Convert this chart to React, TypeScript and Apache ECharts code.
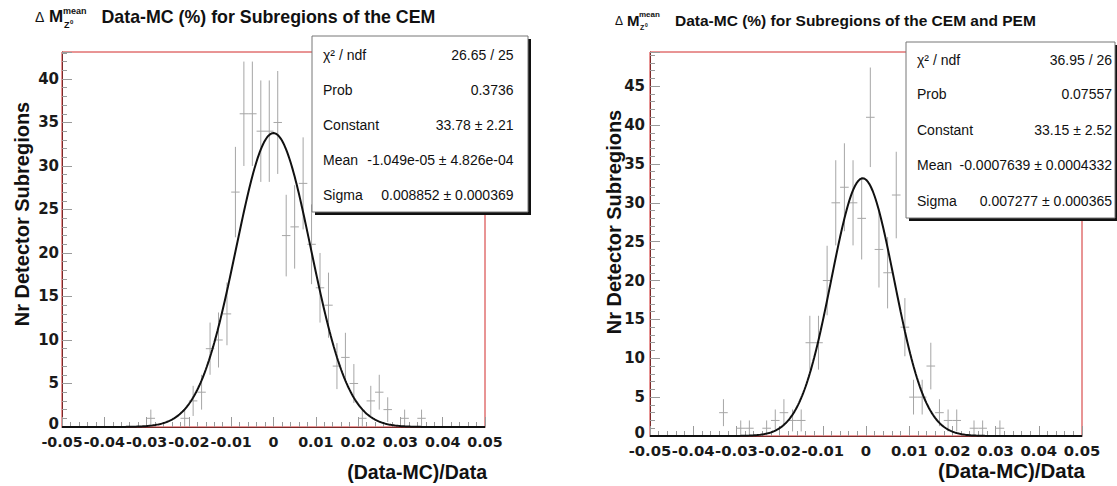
import React, { useEffect, useRef } from "react";
import * as echarts from "echarts";

// ---- data ----
const X_MIN = -0.05;
const X_MAX = 0.05;
const BIN_W = 0.002;

const xTickValues = [-0.05, -0.04, -0.03, -0.02, -0.01, 0, 0.01, 0.02, 0.03, 0.04, 0.05];

// bin contents, 50 bins of width 0.002 from -0.05 to 0.05
const cemCounts = [
  0, 0, 0, 0, 0, 0, 0, 0, 0, 0,
  1, 0, 0, 0, 1, 3, 4, 9, 10, 13,
  27, 36, 36, 34, 34, 35, 22, 23, 28, 21,
  16, 14, 7, 8, 5, 1, 3, 4, 2, 0,
  1, 0, 1, 0, 0, 0, 0, 0, 0, 0,
];
const cemPemCounts = [
  0, 0, 0, 0, 0, 0, 0, 0, 3, 0,
  1, 1, 0, 1, 2, 3, 2, 2, 12, 12,
  20, 30, 32, 30, 28, 41, 24, 21, 31, 14,
  5, 5, 9, 3, 2, 2, 0, 1, 1, 0,
  1, 0, 0, 0, 0, 0, 0, 0, 0, 0,
];

// fit parameters (gaussian) as printed in the stat boxes
const cemFit = { constant: 33.78, mean: -1.049e-5, sigma: 0.008852 };
const cemPemFit = { constant: 33.15, mean: -0.0007639, sigma: 0.007277 };

const statLabels = ["χ² / ndf", "Prob", "Constant", "Mean", "Sigma"];
const cemStatValues = ["26.65 / 25", "0.3736", "33.78 ± 2.21", "-1.049e-05 ± 4.826e-04", "0.008852 ± 0.000369"];
const cemPemStatValues = ["36.95 / 26", "0.07557", "33.15 ± 2.52", "-0.0007639 ± 0.0004332", "0.007277 ± 0.000365"];

const titleMain = ["Data-MC (%) for Subregions of the CEM", "Data-MC (%) for Subregions of the CEM and PEM"];
const yTitle = "Nr Detector Subregions";
const xTitle = "(Data-MC)/Data";

// ---- helpers ----
function histPoints(counts: number[]) {
  const pts: number[][] = [];
  counts.forEach((c, i) => {
    if (c > 0) pts.push([X_MIN + (i + 0.5) * BIN_W, c, Math.sqrt(c)]);
  });
  return pts;
}

function fitCurve(p: { constant: number; mean: number; sigma: number }) {
  const pts: number[][] = [];
  const n = 400;
  for (let i = 0; i <= n; i++) {
    const x = X_MIN + ((X_MAX - X_MIN) * i) / n;
    const z = (x - p.mean) / p.sigma;
    pts.push([x, p.constant * Math.exp(-0.5 * z * z)]);
  }
  return pts;
}

const FONT = "Liberation Sans, Arial, Helvetica, sans-serif";
const TICK_FONT = "DejaVu Sans, Verdana, sans-serif";
const TICK_COLOR = "#9a9a9a";
const POINT_COLOR = "#a6a6a6";
const AXIS_COLOR = "#7a2a2a";

function xLabel(v: number) {
  if (Math.abs(v) < 1e-9) return "0";
  return String(+v.toFixed(2));
}

function makeAxes(gridIndex: number, yMax: number, xMargin: number, yMargin: number, xFont: number) {
  const tickStyle = { color: TICK_COLOR, width: 1 };
  return {
    x: {
      type: "value",
      gridIndex,
      min: X_MIN,
      max: X_MAX,
      interval: 0.01,
      axisLine: { show: true, onZero: false, lineStyle: { color: AXIS_COLOR, width: 1 } },
      axisTick: { show: true, inside: true, length: 10, lineStyle: tickStyle },
      minorTick: { show: true, splitNumber: 5, length: 5, lineStyle: tickStyle },
      splitLine: { show: false },
      axisLabel: {
        fontFamily: TICK_FONT,
        fontWeight: "bold",
        fontSize: xFont,
        color: "#1a1a1a",
        margin: xMargin,
        showMinLabel: true,
        showMaxLabel: true,
        hideOverlap: false,
        formatter: (v: number) => (xTickValues.some((t) => Math.abs(t - v) < 1e-9) ? xLabel(v) : ""),
      },
    },
    y: {
      type: "value",
      gridIndex,
      min: 0,
      max: yMax,
      interval: 5,
      axisLine: { show: true, onZero: false, lineStyle: { color: AXIS_COLOR, width: 1 } },
      axisTick: { show: true, inside: true, length: 10, lineStyle: tickStyle },
      minorTick: { show: true, splitNumber: 5, length: 5, lineStyle: tickStyle },
      splitLine: { show: false },
      axisLabel: {
        fontFamily: TICK_FONT,
        fontWeight: "bold",
        fontSize: 15,
        color: "#1a1a1a",
        margin: yMargin,
        showMinLabel: true,
        formatter: (v: number) => (Math.abs(v) < 1e-9 ? "{z|0}" : Math.abs(v % 5) < 1e-9 ? String(v) : ""),
        rich: {
          z: { fontFamily: TICK_FONT, fontWeight: "bold", fontSize: 15, color: "#1a1a1a", padding: [0, 0, 6, 0] },
        },
      },
    },
  };
}

function errorSeries(idx: number, counts: number[]) {
  return {
    type: "custom",
    xAxisIndex: idx,
    yAxisIndex: idx,
    data: histPoints(counts),
    clip: true,
    renderItem: (_params: any, api: any) => {
      const x = api.value(0);
      const y = api.value(1);
      const e = api.value(2);
      const l = api.coord([x - BIN_W / 2, y]);
      const r = api.coord([x + BIN_W / 2, y]);
      const t = api.coord([x, y + e]);
      const b = api.coord([x, y - e]);
      return {
        type: "group",
        children: [
          { type: "line", shape: { x1: l[0], y1: l[1], x2: r[0], y2: r[1] }, style: { stroke: POINT_COLOR, lineWidth: 1 } },
          { type: "line", shape: { x1: t[0], y1: t[1], x2: b[0], y2: b[1] }, style: { stroke: POINT_COLOR, lineWidth: 1 } },
        ],
      };
    },
  };
}

function fitSeries(idx: number, p: { constant: number; mean: number; sigma: number }) {
  return {
    type: "line",
    xAxisIndex: idx,
    yAxisIndex: idx,
    data: fitCurve(p),
    showSymbol: false,
    symbol: "none",
    smooth: false,
    clip: true,
    lineStyle: { color: "#111", width: 2 },
    z: 3,
  };
}

function statBox(x: number, y: number, w: number, h: number, rows: number[], labelX: number, valueX: number, values: string[]) {
  const els: any[] = [
    { type: "rect", shape: { x: x + 3, y: y + 3, width: w, height: h }, style: { fill: "#111" }, z: 10 },
    { type: "rect", shape: { x, y, width: w, height: h }, style: { fill: "#fff", stroke: "#777", lineWidth: 1 }, z: 11 },
  ];
  statLabels.forEach((lab, i) => {
    els.push({
      type: "text",
      z: 12,
      style: { text: lab, x: labelX, y: rows[i], font: `14px ${FONT}`, fill: "#111", textAlign: "left", textVerticalAlign: "middle" },
    });
    els.push({
      type: "text",
      z: 12,
      style: { text: values[i], x: valueX, y: rows[i], font: `14px ${FONT}`, fill: "#111", textAlign: "right", textVerticalAlign: "middle" },
    });
  });
  return els;
}

function txt(text: string, x: number, y: number, font: string, extra: any = {}) {
  return {
    type: "text",
    z: 12,
    ...extra,
    style: { text, x, y, font, fill: "#111", textAlign: "left", textVerticalAlign: "middle", ...(extra.style || {}) },
  };
}

export default function App() {
  const ref = useRef<HTMLDivElement>(null);
  useEffect(() => {
    document.body.style.margin = "0";
    if (!ref.current) return;
    const chart = echarts.init(ref.current, null, { renderer: "svg" });
    const a0 = makeAxes(0, 43.1, 8, 3, 14.3);
    const a1 = makeAxes(1, 49.4, 7, 5, 14.8);

    const graphic: any[] = [
      // left title
      txt("Δ", 35, 17, `14px ${FONT}`),
      txt("M", 49, 16.5, `bold 17px ${FONT}`),
      txt("mean", 63, 11, `bold 9px ${FONT}`),
      txt("Z", 64, 25, `bold 9px ${FONT}`),
      txt("0", 70, 22, `bold 6px ${FONT}`),
      txt(titleMain[0], 101.5, 16.5, `bold 17.8px ${FONT}`),
      // right title
      txt("Δ", 615, 21, `12px ${FONT}`),
      txt("M", 627, 20, `bold 15px ${FONT}`),
      txt("mean", 639, 14, `bold 8px ${FONT}`),
      txt("Z", 640, 27, `bold 7px ${FONT}`),
      txt("0", 645, 25, `bold 5px ${FONT}`),
      txt(titleMain[1], 675, 20, `bold 15.5px ${FONT}`),
      // y titles
      txt(yTitle, 22, 214, `bold 20px ${FONT}`, { rotation: Math.PI / 2, x: 22, y: 214, style: { x: 0, y: 0, textAlign: "center" } }),
      txt(yTitle, 614, 222, `bold 20px ${FONT}`, { rotation: Math.PI / 2, x: 614, y: 222, style: { x: 0, y: 0, textAlign: "center" } }),
      // x titles
      txt(xTitle, 487, 472, `bold 19.5px ${FONT}`, { style: { textAlign: "right" } }),
      txt(xTitle, 1085, 470, `bold 20.5px ${FONT}`, { style: { textAlign: "right" } }),
      ...statBox(312, 36, 216, 176, [55, 89.5, 124.5, 159.5, 194.5], 323, 513.5, cemStatValues),
      ...statBox(906, 42, 209, 176, [59.5, 93.5, 129.5, 165, 201], 917, 1112, cemPemStatValues),
    ];

    chart.setOption({
      animation: false,
      backgroundColor: "#fff",
      grid: [
        { left: 62, top: 52, width: 423, height: 375, show: true, borderColor: "#d22b2b", borderWidth: 1, backgroundColor: "transparent" },
        { left: 650, top: 52, width: 432, height: 384, show: true, borderColor: "#d22b2b", borderWidth: 1, backgroundColor: "transparent" },
      ],
      xAxis: [a0.x, a1.x],
      yAxis: [a0.y, a1.y],
      series: [errorSeries(0, cemCounts), fitSeries(0, cemFit), errorSeries(1, cemPemCounts), fitSeries(1, cemPemFit)],
      graphic,
    });
    return () => chart.dispose();
  }, []);
  return <div ref={ref} style={{ width: 1117, height: 486 }} />;
}
